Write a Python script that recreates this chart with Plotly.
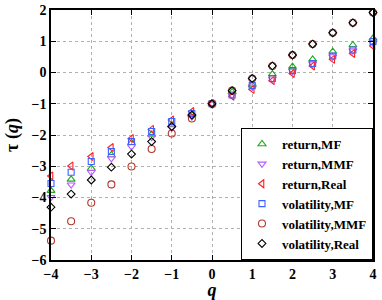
import plotly.graph_objects as go

q = [-4, -3.5, -3, -2.5, -2, -1.5, -1, -0.5, 0, 0.5, 1, 1.5, 2, 2.5, 3, 3.5, 4]

return_mf = [-3.78, -3.42, -3.07, -2.64, -2.25, -1.98, -1.68, -1.36, -1.0, -0.62, -0.40, -0.05, 0.19, 0.42, 0.67, 0.88, 1.09]
return_mmf = [-3.99, -3.59, -3.19, -2.75, -2.37, -2.07, -1.77, -1.41, -1.0, -0.72, -0.46, -0.20, 0.05, 0.28, 0.51, 0.70, 0.95]
return_real = [-3.31, -2.99, -2.69, -2.40, -2.11, -1.82, -1.52, -1.25, -1.0, -0.76, -0.54, -0.26, -0.03, 0.21, 0.42, 0.61, 0.85]
vol_mf = [-3.55, -3.19, -2.85, -2.53, -2.21, -1.89, -1.57, -1.31, -1.0, -0.72, -0.42, -0.19, 0.06, 0.29, 0.53, 0.72, 0.99]
vol_mmf = [-5.38, -4.76, -4.17, -3.58, -3.01, -2.45, -1.95, -1.47, -1.0, -0.58, -0.19, 0.21, 0.56, 0.91, 1.27, 1.59, 1.92]
vol_real = [-4.31, -3.89, -3.44, -3.03, -2.61, -2.21, -1.73, -1.36, -1.0, -0.58, -0.19, 0.21, 0.56, 0.91, 1.27, 1.59, 1.92]

x_ticks = [-4, -3, -2, -1, 0, 1, 2, 3, 4]
y_ticks = [-6, -5, -4, -3, -2, -1, 0, 1, 2]

series = [
    ("return,MF", return_mf, "triangle-up-open", "#1faa1f", 7),
    ("return,MMF", return_mmf, "triangle-down-open", "#b55cff", 7),
    ("return,Real", return_real, "triangle-left-open", "#ff2020", 7),
    ("volatility,MF", vol_mf, "square-open", "#3f5fff", 6),
    ("volatility,MMF", vol_mmf, "circle-open", "#b0382a", 7),
    ("volatility,Real", vol_real, "diamond-open", "#000000", 6),
]

fig = go.Figure()
for name, vals, sym, col, sz in series:
    fig.add_trace(go.Scatter(
        x=q, y=vals, mode="markers", name="<b>" + name + "</b>",
        cliponaxis=False,
        marker=dict(symbol=sym, size=sz, color=col, line=dict(width=1.1, color=col)),
    ))

font_family = "Liberation Serif"

def tick_text(vals):
    return ["<b>" + ("\u2212" + str(-v) if v < 0 else str(v)) + "</b>" for v in vals]

axis_common = dict(
    showgrid=True, gridcolor="#b0b0b0", griddash="dot", gridwidth=1,
    showline=True, linecolor="black", linewidth=1.5, mirror="ticks",
    ticks="inside", ticklen=5, tickcolor="black", zeroline=False,
    ticklabeloverflow="allow", automargin=False,
    tickfont=dict(family=font_family, size=14, color="black"),
)

fig.update_layout(
    width=382, height=300,
    margin=dict(l=51, r=9, t=10, b=40),
    paper_bgcolor="white", plot_bgcolor="white",
    showlegend=True,
    legend=dict(
        x=1, y=0, xanchor="right", yanchor="bottom",
        bgcolor="white", bordercolor="black", borderwidth=1,
        font=dict(family=font_family, size=13, color="black"),
        tracegroupgap=0,
    ),
    xaxis=dict(range=[-4, 4], tickvals=x_ticks, ticktext=tick_text(x_ticks), **axis_common,
               title=dict(text="<b><i>q</i></b>", standoff=11,
                          font=dict(family=font_family, size=18, color="black"))),
    yaxis=dict(range=[-6, 2], tickvals=y_ticks, ticktext=tick_text(y_ticks), **axis_common,
               title=dict(text="<b>τ (<i>q</i>)</b>", standoff=8,
                          font=dict(family=font_family, size=18, color="black"))),
)

fig.write_html("out.html", config={"displayModeBar": False},
               post_script="document.body.style.margin='0';")
